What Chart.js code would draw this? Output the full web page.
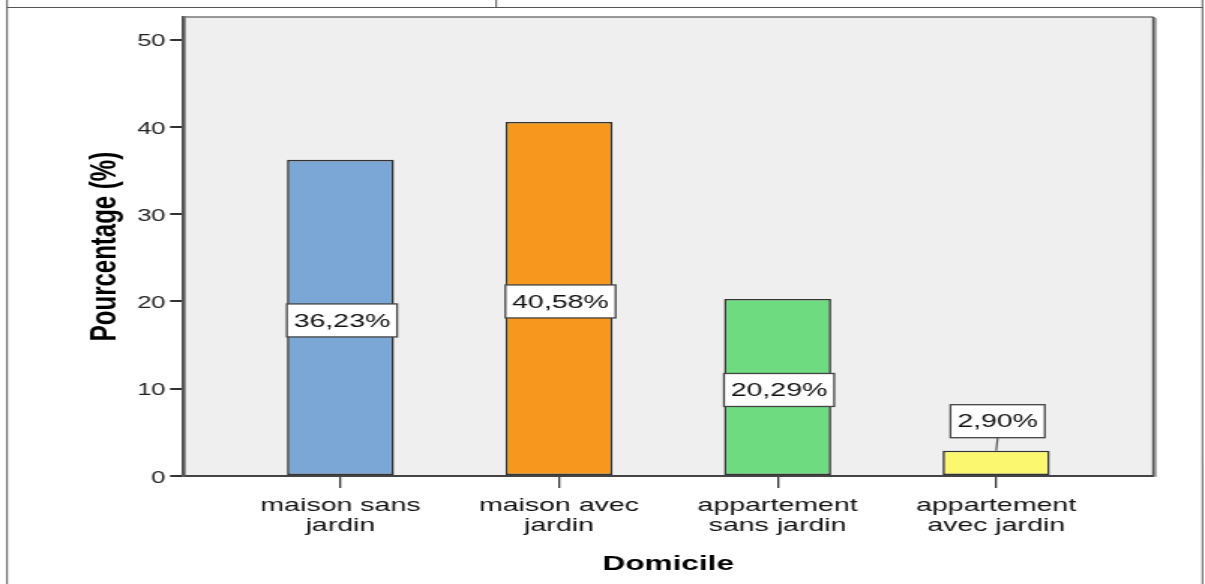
<!DOCTYPE html>
<html>
<head>
<meta charset="utf-8">
<title>Domicile</title>
<script src="https://cdn.jsdelivr.net/npm/chart.js@4.4.1/dist/chart.umd.min.js"></script>
<style>
  html, body { margin: 0; padding: 0; background: #ffffff; overflow: hidden; }
  /* the chart is laid out on a narrow canvas and widened horizontally */
  #wrap { position: absolute; left: 0; top: 0; width: 803px; height: 584px;
          transform: scaleX(1.5006); transform-origin: 0 0; }
</style>
</head>
<body>
<div id="wrap"><canvas id="c" width="803" height="584"></canvas></div>
<script>
// Répartition des répondants selon le type de domicile
const categories = ['maison sans jardin', 'maison avec jardin', 'appartement sans jardin', 'appartement avec jardin'];
const categoryLines = [['maison sans', 'jardin'], ['maison avec', 'jardin'], ['appartement', 'sans jardin'], ['appartement', 'avec jardin']];
const percentages = [36.23, 40.58, 20.29, 2.90];
const barColors = ['#7aa7d6', '#f7971e', '#6fdb80', '#fbf870'];
const yTicks = [0, 10, 20, 30, 40, 50];

const FONT = '"Liberation Sans", Arial, sans-serif';
Chart.defaults.font.family = FONT;

const fmt = v => v.toFixed(2).replace('.', ',') + '%';

// page frame and plot background
const framePlugin = {
  id: 'frame',
  beforeDraw(chart) {
    const { ctx, chartArea: a } = chart;
    ctx.save();
    ctx.fillStyle = '#efefef';
    ctx.fillRect(a.left, a.top, a.right - a.left, a.bottom - a.top);
    ctx.restore();
  },
  afterDraw(chart) {
    const { ctx, chartArea: a, width, height } = chart;
    ctx.save();
    // plot frame: top edge and shaded right edge
    ctx.strokeStyle = '#777';
    ctx.lineWidth = 1.6;
    ctx.beginPath();
    ctx.moveTo(a.left, a.top);
    ctx.lineTo(a.right, a.top);
    ctx.stroke();
    ctx.strokeStyle = '#b0b0b0';
    ctx.lineWidth = 1.4;
    ctx.beginPath();
    ctx.moveTo(a.right + 1.6, a.top + 1);
    ctx.lineTo(a.right + 1.6, a.bottom + 1);
    ctx.stroke();
    ctx.strokeStyle = '#555';
    ctx.lineWidth = 1.8;
    ctx.beginPath();
    ctx.moveTo(a.right, a.top);
    ctx.lineTo(a.right, a.bottom);
    ctx.stroke();
    // surrounding table rules
    ctx.strokeStyle = '#555';
    ctx.lineWidth = 1;
    ctx.beginPath();
    ctx.moveTo(4.7, 7.5); ctx.lineTo(width - 1.7, 7.5);
    ctx.moveTo(4.7, 0); ctx.lineTo(4.7, height);
    ctx.moveTo(width - 1.7, 0); ctx.lineTo(width - 1.7, height);
    ctx.moveTo(330.7, 0); ctx.lineTo(330.7, 7.5);
    ctx.stroke();
    ctx.restore();
  }
};

// boxed value labels on each bar
const valueLabels = {
  id: 'valueLabels',
  afterDatasetsDraw(chart) {
    const { ctx } = chart;
    const meta = chart.getDatasetMeta(0);
    ctx.save();
    ctx.font = '19px ' + FONT;
    ctx.textAlign = 'center';
    ctx.textBaseline = 'middle';
    meta.data.forEach((bar, i) => {
      const text = fmt(percentages[i]);
      const w = ctx.measureText(text).width + 9;
      const h = 33;
      let cy = (bar.y + bar.base) / 2 + 3;
      const short = (bar.base - bar.y) < h + 4;
      if (short) {
        const boxBottom = bar.y - 13;
        cy = boxBottom - h / 2;
        ctx.strokeStyle = '#555';
        ctx.lineWidth = 1.2;
        ctx.beginPath();
        ctx.moveTo(bar.x + 1, boxBottom);
        ctx.lineTo(bar.x, bar.y);
        ctx.stroke();
      }
      const x0 = bar.x + 1 - w / 2;
      ctx.fillStyle = '#ffffff';
      ctx.fillRect(x0, cy - h / 2, w, h);
      ctx.strokeStyle = '#444';
      ctx.lineWidth = 1.3;
      ctx.strokeRect(x0, cy - h / 2, w, h);
      ctx.fillStyle = '#111';
      ctx.fillText(text, bar.x + 1, cy + 1);
    });
    ctx.restore();
  }
};

new Chart(document.getElementById('c'), {
  type: 'bar',
  data: {
    datasets: [{
      data: percentages.map((v, i) => ({ x: i, y: v })),
      backgroundColor: barColors,
      borderColor: '#333',
      borderWidth: 1.6,
      borderSkipped: false,
      barPercentage: 0.49,
      categoryPercentage: 1
    }]
  },
  options: {
    responsive: false,
    animation: false,
    layout: { padding: { left: 0, right: 34.3, top: 17, bottom: 0 } },
    plugins: { legend: { display: false }, tooltip: { enabled: false } },
    scales: {
      x: {
        type: 'linear',
        min: -0.72,
        max: 3.72,
        offset: false,
        afterBuildTicks: s => { s.ticks = categories.map((_, i) => ({ value: i })); },
        afterFit: s => { s.height = 108; },
        grid: { display: true, offset: false, drawOnChartArea: false, drawTicks: true,
                tickLength: 12, color: '#333', lineWidth: 1.3 },
        border: { display: true, color: '#444', width: 2 },
        ticks: {
          autoSkip: false, maxRotation: 0, minRotation: 0,
          padding: 7.5, color: '#111',
          font: { size: 19, lineHeight: '20px' },
          callback: v => categoryLines[v]
        },
        title: {
          display: true, text: 'Domicile', color: '#000',
          font: { size: 21, weight: 'bold' },
          padding: { top: 0, bottom: 7 }
        }
      },
      y: {
        min: 0,
        max: 52.6,
        afterBuildTicks: s => { s.ticks = yTicks.map(v => ({ value: v })); },
        afterFit: s => { s.width = 122; },
        grid: { display: true, drawOnChartArea: false, drawTicks: true,
                tickLength: 8.7, color: '#333', lineWidth: 2 },
        border: { display: true, color: '#555', width: 2.6 },
        ticks: { padding: 3, color: '#222', labelOffset: 2, font: { size: 17 } },
        title: {
          display: true, text: 'Pourcentage (%)', color: '#000',
          font: { size: 24, weight: 'bold' },
          padding: { top: 56.3, bottom: 0 }
        }
      }
    }
  },
  plugins: [framePlugin, valueLabels]
});
</script>
</body>
</html>
